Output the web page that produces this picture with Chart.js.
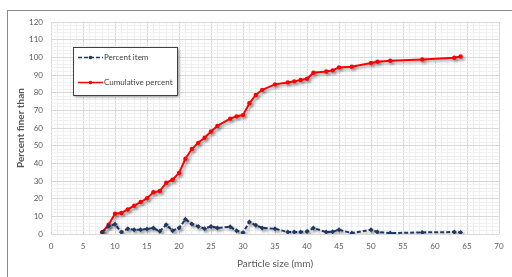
<!DOCTYPE html>
<html>
<head>
<meta charset="utf-8">
<script src="https://cdn.jsdelivr.net/npm/chart.js@4"></script>
<style>
  html, body { margin: 0; padding: 0; background: #fff; overflow: hidden; }
  #wrap { position: relative; width: 512px; height: 277px; }
  #frame { position: absolute; left: 7px; top: 10px; width: 700px; height: 400px; border: 1.5px solid #8a8a8a; }
  canvas { position: absolute; left: 0; top: 0; }
</style>
</head>
<body>
<div id="wrap">
  <div id="frame"></div>
  <canvas id="chart" width="512" height="277"></canvas>
</div>
<script>
'use strict';
// particle sizes (mm)
var sizes = [8, 9, 10, 11, 12, 13, 14, 15, 16, 17, 18, 19, 20, 21, 22, 23, 24, 25, 26, 28, 29, 30,
  31, 32, 33, 35, 37, 38, 39, 40, 41, 43, 44, 45, 47, 50, 51, 53, 58, 63, 64];
var percentItem = [1, 4.5, 5.5, 1, 3, 2.4, 2.4, 2.8, 3.4, 1.5, 5.3, 1.9, 3.4, 8.3, 5.7, 4.3, 3, 4.3, 3.4, 4.1, 1.9, 0.7,
  6.8, 5, 3.4, 3, 1.1, 1.1, 1.1, 1.4, 3.4, 1.1, 1.3, 2.4, 0.5, 2.4, 1.1, 0.5, 0.9, 1.1, 0.9];
var cumulative = [1, 5.3, 11.5, 11.9, 13.9, 16, 18.1, 20.2, 23.6, 24.3, 29, 30.7, 34.5, 42.6, 48.1, 51.6, 54.5, 58, 61.2, 65.3, 66.6, 67.3,
  74, 78.7, 81.6, 84.7, 85.8, 86.4, 87.2, 87.9, 91.3, 92, 92.6, 94.3, 94.7, 96.8, 97.5, 98.1, 98.8, 99.8, 100.5];
var seriesNames = ['Percent item', 'Cumulative percent'];
var seriesColors = ['#1f3864', '#ff0000'];
var xTitle = 'Particle size (mm)';
var yTitle = 'Percent finer than';

function toPoints(vals) {
  return sizes.map(function(s, i) { return { x: s, y: vals[i] }; });
}

var FONT = 'Lato, "Open Sans", sans-serif';

var shadowPlugin = {
  id: 'lineShadow',
  beforeDatasetDraw: function(chart) {
    var ctx = chart.ctx;
    ctx.save();
    ctx.shadowColor = 'rgba(0,0,0,0.35)';
    ctx.shadowBlur = 3;
    ctx.shadowOffsetX = 2;
    ctx.shadowOffsetY = 2;
  },
  afterDatasetDraw: function(chart) { chart.ctx.restore(); }
};

// legend box sitting inside the plot, top left
var boxLegend = {
  id: 'boxLegend',
  afterDraw: function(chart) {
    var ctx = chart.ctx;
    var x = 73, y = 47, w = 104, h = 48;
    ctx.save();
    ctx.shadowColor = 'rgba(0,0,0,0.4)';
    ctx.shadowBlur = 3;
    ctx.shadowOffsetX = 2;
    ctx.shadowOffsetY = 2;
    ctx.fillStyle = '#fff';
    ctx.fillRect(x, y, w, h);
    ctx.restore();
    ctx.save();
    ctx.strokeStyle = '#404040';
    ctx.lineWidth = 1;
    ctx.strokeRect(x + 0.5, y + 0.5, w, h);
    var rows = [57.5, 82.5];
    chart.data.datasets.forEach(function(ds, i) {
      var ly = rows[i];
      ctx.strokeStyle = ds.borderColor;
      ctx.lineWidth = 1.5;
      ctx.setLineDash(ds.borderDash || []);
      ctx.beginPath();
      ctx.moveTo(78, ly);
      ctx.lineTo(103, ly);
      ctx.stroke();
      ctx.setLineDash([]);
      ctx.fillStyle = ds.borderColor;
      ctx.beginPath();
      ctx.arc(90.5, ly, 1.8, 0, Math.PI * 2);
      ctx.fill();
      ctx.fillStyle = '#404040';
      ctx.font = '8px ' + FONT;
      ctx.textBaseline = 'middle';
      ctx.fillText(ds.label, 104, ly);
    });
    ctx.restore();
  }
};

new Chart(document.getElementById('chart'), {
  type: 'scatter',
  data: {
    datasets: [{
      label: seriesNames[0],
      data: toPoints(percentItem),
      showLine: true,
      borderColor: seriesColors[0],
      backgroundColor: seriesColors[0],
      borderWidth: 2,
      borderDash: [4, 2],
      pointStyle: 'rectRot',
      pointRadius: 2.5,
      pointBorderWidth: 0
    }, {
      label: seriesNames[1],
      data: toPoints(cumulative),
      showLine: true,
      borderColor: seriesColors[1],
      backgroundColor: seriesColors[1],
      borderWidth: 2,
      pointStyle: 'circle',
      pointRadius: 2.2,
      pointBorderWidth: 0
    }]
  },
  options: {
    responsive: false,
    animation: false,
    layout: { padding: { left: 0, top: 22, right: 13, bottom: 0 } },
    plugins: { legend: { display: false }, tooltip: { enabled: false } },
    scales: {
      x: {
        type: 'linear', min: 0, max: 70,
        afterFit: function(s) { s.height = 43; },
        ticks: {
          stepSize: 1, autoSkip: false, maxRotation: 0, padding: 8,
          color: '#595959', font: { family: FONT, size: 8 },
          callback: function(v) { return v % 5 === 0 ? v : ''; }
        },
        grid: {
          drawTicks: false,
          color: function(c) { return c.tick && c.tick.value % 5 === 0 ? '#d9d9d9' : '#f0f0f0'; }
        },
        border: { display: false },
        title: { display: true, text: xTitle, color: '#595959', font: { family: FONT, size: 10 }, padding: { top: 0, bottom: 7 } }
      },
      y: {
        min: 0, max: 120,
        afterFit: function(s) { s.width = 51; },
        ticks: {
          stepSize: 2, autoSkip: false, padding: 8,
          color: '#595959', font: { family: FONT, size: 8 },
          callback: function(v) { return v % 10 === 0 ? v : ''; }
        },
        grid: {
          drawTicks: false,
          color: function(c) { return c.tick && c.tick.value % 10 === 0 ? '#d9d9d9' : '#f0f0f0'; }
        },
        border: { display: false },
        title: { display: true, text: yTitle, color: '#595959', font: { family: FONT, size: 10, weight: 'bold' }, padding: { top: 15, bottom: 0 } }
      }
    }
  },
  plugins: [shadowPlugin, boxLegend]
});
</script>
</body>
</html>
